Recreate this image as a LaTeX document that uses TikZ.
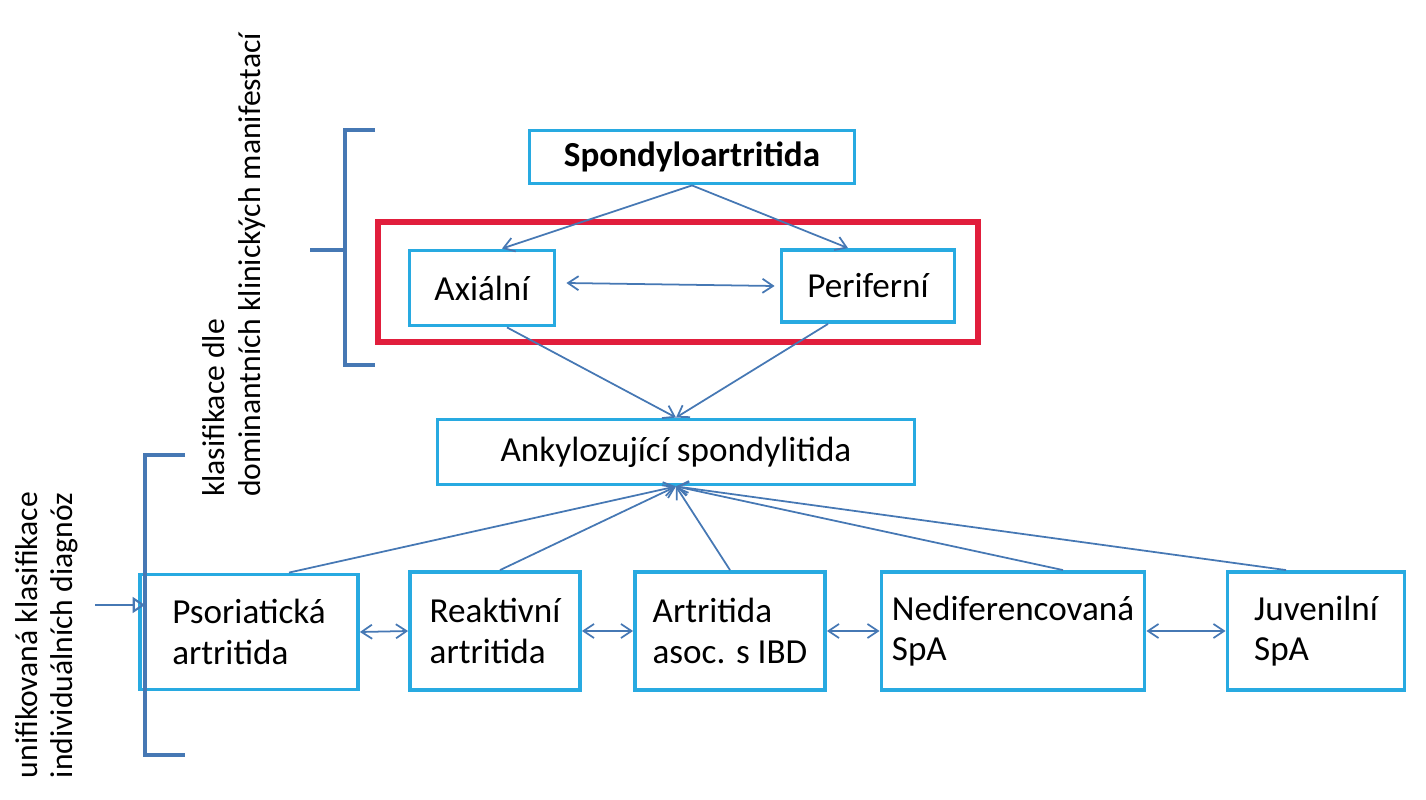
\documentclass[tikz,border=0pt]{standalone}
\usepackage{fontspec}
\setmainfont{Carlito}
\usetikzlibrary{arrows.meta}
\definecolor{boxc}{RGB}{40,170,225}
\definecolor{arrc}{RGB}{70,120,180}
\definecolor{redc}{RGB}{225,30,60}
\begin{document}
\begin{tikzpicture}[x=0.02cm,y=-0.02cm, line width=1pt,
  box/.style={draw=boxc, line width=2.2pt, inner sep=0pt, font=\fontsize{20}{23}\selectfont, align=left},
  arr/.style={arrc, -{Straight Barb[length=6pt,width=8pt]}},
  darr/.style={arrc, {Straight Barb[length=6pt,width=8pt]}-{Straight Barb[length=6pt,width=8pt]}}]
\useasboundingbox (0,0) rectangle (1426,800);

\node[box, minimum width=6.5cm, minimum height=1.06cm] (spa) at (692,157) {\textbf{Spondyloartritida}};
\draw[redc, line width=3pt] (378,222) rectangle (978,342);
\node[box, minimum width=2.9cm, minimum height=1.5cm] (axi) at (482,288) {Axiální};
\node[box, minimum width=3.46cm, minimum height=1.44cm] (per) at (868,286) {Periferní};
\node[box, minimum width=9.54cm, minimum height=1.3cm] (ank) at (676,452) {Ankylozující spondylitida};

\node[box, minimum width=4.36cm, minimum height=2.3cm] (pso) at (249,632) {Psoriatická\\artritida};
\node[box, minimum width=3.4cm, minimum height=2.36cm] (rea) at (495,631) {Reaktivní\\artritida};
\node[box, minimum width=3.8cm, minimum height=2.36cm] (ibd) at (730,631) {Artritida\\asoc. s IBD};
\node[box, minimum width=5.26cm, minimum height=2.36cm] (ned) at (1013,631) {Nediferencovaná\\SpA};
\node[box, minimum width=3.54cm, minimum height=2.36cm] (juv) at (1316,631) {Juvenilní\\SpA};

% arrows
\draw[arr] (spa.south) -- ([xshift=0.4cm]axi.north);
\draw[arr] (spa.south) -- ([xshift=-0.4cm]per.north);
\coordinate (a1) at ([xshift=0.2cm,yshift=0.1cm]axi.east);
\coordinate (p1) at ([xshift=-0.1cm]per.west);
\draw[darr] (a1) -- (p1);
\draw[arr] ([xshift=0.5cm]axi.south) -- (ank.north);
\draw[arr] ([xshift=-0.8cm]per.south) -- (ank.north);
\draw[arr] ([xshift=0.8cm]pso.north) -- (ank.south);
\draw[arr] ([xshift=0.1cm]rea.north) -- (ank.south);
\draw[arr] (ibd.north) -- (ank.south);
\draw[arr] ([xshift=1cm]ned.north) -- (ank.south);
\draw[arr] ([xshift=-0.6cm]juv.north) -- (ank.south);
\draw[darr] (pso.east) -- (rea.west);
\draw[darr] (rea.east) -- (ibd.west);
\draw[darr] (ibd.east) -- (ned.west);
\draw[darr] (ned.east) -- (juv.west);

% brackets
\draw[arrc, line width=2pt] (375,130) -- (345,130) -- (345,365) -- (375,365);
\draw[arrc, line width=2pt] (345,250) -- (310,250);
\draw[arrc, line width=2pt] (185,455) -- (145,455) -- (145,755) -- (185,755);
\draw[arrc, line width=1.2pt, -{Triangle[open,length=7pt,width=9pt]}] (95,605) -- (145,605);

\node[rotate=90, align=left, font=\fontsize{18}{20}\selectfont] (lab1) at (234,265) {klasifikace dle\\dominantních klinických manifestací};
\node[rotate=90, align=left, font=\fontsize{18}{20}\selectfont] (lab2) at (47,635) {unifikovaná klasifikace\\individuálních diagnóz};
\end{tikzpicture}
\end{document}
